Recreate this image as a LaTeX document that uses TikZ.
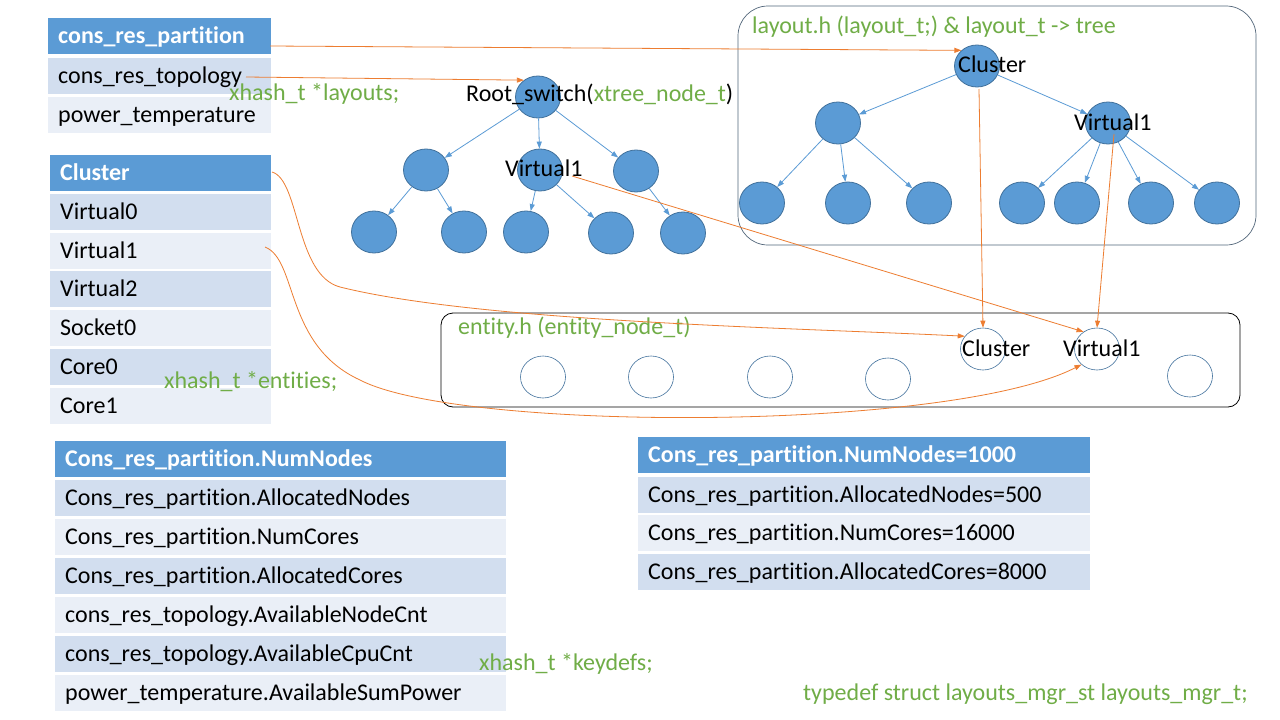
\documentclass[tikz,border=0pt]{standalone}
\usepackage{fontspec}
\setmainfont{Carlito}[Ligatures={TeX,NoCommon}]
\usetikzlibrary{shapes.geometric,arrows.meta}
\definecolor{hdrblue}{HTML}{5B9BD5}
\definecolor{rowdark}{HTML}{D2DEEF}
\definecolor{rowlight}{HTML}{EAEFF7}
\definecolor{codegreen}{HTML}{70AD47}
\definecolor{linkorange}{HTML}{ED7D31}
\definecolor{circborder}{HTML}{41719C}
\definecolor{boxborder}{HTML}{52667A}
\begin{document}
\begin{tikzpicture}[x=1pt,y=-1pt,
  font=\fontsize{24}{28}\selectfont,
  cellbox/.style={rectangle, anchor=north west, inner xsep=10pt, inner ysep=0pt,
    minimum height=36pt, text width=#1, align=left, text height=17pt, text depth=3pt},
  hdr/.style={fill=hdrblue, text=white, font=\fontsize{24}{28}\selectfont\bfseries},
  dk/.style={fill=rowdark},
  lt/.style={fill=rowlight},
  tnode/.style={ellipse, draw=circborder, fill=hdrblue, line width=0.8pt,
    minimum width=45pt, minimum height=42pt, inner sep=0pt},
  enode/.style={ellipse, draw=circborder, line width=0.6pt,
    minimum width=45pt, minimum height=42pt, inner sep=0pt},
  tarrow/.style={draw=hdrblue, line width=0.8pt, -{Triangle[length=7pt,width=5pt]}},
  oarrow/.style={draw=linkorange, line width=0.8pt, -{Triangle[length=7pt,width=5pt]}},
  lbl/.style={anchor=base west, inner sep=0pt},
  glbl/.style={anchor=base west, inner sep=0pt, text=codegreen}]
\fill[white] (0,0) rectangle (1280,720);
\useasboundingbox (0,0) rectangle (1280,720);

% Table 1
\node[cellbox=203pt, hdr] (t1a) at (48,18) {cons\_res\_partition};
\node[cellbox=203pt, dk] (t1b) at (48,58) {cons\_res\_topology};
\node[cellbox=203pt, lt] (t1c) at (48,97) {power\_temperature};

% Table 2
\node[cellbox=201pt, hdr] (t2a) at (50,155) {Cluster};
\node[cellbox=201pt, dk] (t2b) at (50,194) {Virtual0};
\node[cellbox=201pt, lt] (t2c) at (50,233) {Virtual1};
\node[cellbox=201pt, dk] (t2d) at (50,271) {Virtual2};
\node[cellbox=201pt, lt] (t2e) at (50,310) {Socket0};
\node[cellbox=201pt, dk] (t2f) at (50,349) {Core0};
\node[cellbox=201pt, lt] (t2g) at (50,388) {Core1};

% Table 3
\node[cellbox=431pt, hdr] (t3a) at (55,441) {Cons\_res\_partition.NumNodes};
\node[cellbox=431pt, dk] (t3b) at (55,480) {Cons\_res\_partition.AllocatedNodes};
\node[cellbox=431pt, lt] (t3c) at (55,519) {Cons\_res\_partition.NumCores};
\node[cellbox=431pt, dk] (t3d) at (55,558) {Cons\_res\_partition.AllocatedCores};
\node[cellbox=431pt, lt] (t3e) at (55,597) {cons\_res\_topology.AvailableNodeCnt};
\node[cellbox=431pt, dk] (t3f) at (55,636) {cons\_res\_topology.AvailableCpuCnt};
\node[cellbox=431pt, lt] (t3g) at (55,675) {power\_temperature.AvailableSumPower};

% Table 4
\node[cellbox=432pt, hdr] (t4a) at (638,437) {Cons\_res\_partition.NumNodes=1000};
\node[cellbox=432pt, dk] (t4b) at (638,477) {Cons\_res\_partition.AllocatedNodes=500};
\node[cellbox=432pt, lt] (t4c) at (638,515) {Cons\_res\_partition.NumCores=16000};
\node[cellbox=432pt, dk] (t4d) at (638,554) {Cons\_res\_partition.AllocatedCores=8000};

% Boxes
\draw[boxborder, line width=0.7pt, rounded corners=30pt] (738,6) rectangle (1256,245);
\draw[black, line width=0.8pt, rounded corners=12pt] (441,313) rectangle (1240,407);

% Left tree
\node[tnode] (lroot) at (538,97) {};
\node[tnode] (la) at (426,170) {};
\node[tnode] (lb) at (540,170) {};
\node[tnode] (lc) at (636,171) {};
\node[tnode] (l1) at (374,232) {};
\node[tnode] (l2) at (464,232) {};
\node[tnode] (l3) at (526,232) {};
\node[tnode] (l4) at (611,233) {};
\node[tnode] (l5) at (683,233) {};
\draw[tarrow] (lroot) -- (la);
\draw[tarrow] (lroot) -- (lb);
\draw[tarrow] (lroot) -- (lc);
\draw[tarrow] (la) -- (l1);
\draw[tarrow] (la) -- (l2);
\draw[tarrow] (lb) -- (l3);
\draw[tarrow] (lb) -- (l4);
\draw[tarrow] (lc) -- (l5);

% Right tree
\node[tnode] (rroot) at (977,66) {};
\node[tnode] (ra) at (838,123) {};
\node[tnode] (rb) at (1108,123) {};
\node[tnode] (r1) at (762,203) {};
\node[tnode] (r2) at (848,203) {};
\node[tnode] (r3) at (929,203) {};
\node[tnode] (r4) at (1022,203) {};
\node[tnode] (r5) at (1077,203) {};
\node[tnode] (r6) at (1151,203) {};
\node[tnode] (r7) at (1217,203) {};
\draw[tarrow] (rroot) -- (ra);
\draw[tarrow] (rroot) -- (rb);
\draw[tarrow] (ra) -- (r1);
\draw[tarrow] (ra) -- (r2);
\draw[tarrow] (ra) -- (r3);
\draw[tarrow] (rb) -- (r4);
\draw[tarrow] (rb) -- (r5);
\draw[tarrow] (rb) -- (r6);
\draw[tarrow] (rb) -- (r7);

% Entity circles
\node[enode] (e1) at (543,377) {};
\node[enode] (e2) at (651,377) {};
\node[enode] (e3) at (770,377) {};
\node[enode] (e4) at (888,379) {};
\node[enode] (eC) at (983,349) {};
\node[enode] (eV) at (1097,349) {};
\node[enode] (e7) at (1190,376) {};

% Labels
\node[glbl] (g1) at (229,100) {xhash\_t *layouts;};
\node[lbl] (rootlbl) at (466,101) {Root\_switch(\textcolor{codegreen}{xtree\_node\_t})};
\node[lbl] (lblv) at (505,176) {Virtual1};
\node[glbl] (g2) at (164,388) {xhash\_t *entities;};
\node[glbl] (g3) at (479,670) {xhash\_t *keydefs;};
\node[glbl] (g4) at (803,700) {typedef struct layouts\_mgr\_st layouts\_mgr\_t;};
\node[glbl] (g5) at (752,34) {layout.h (layout\_t;) \& layout\_t -> tree};
\node[glbl] (g6) at (458,334) {entity.h (entity\_node\_t)};
\node[lbl] (rcl) at (958,72) {Cluster};
\node[lbl] (rvl) at (1074,130) {Virtual1};
\node[lbl] (ecl) at (962,356) {Cluster};
\node[lbl] (evl) at (1063,356) {Virtual1};

% Orange links
\coordinate (o1) at (270,46);
\coordinate (o2) at (246,77);
\coordinate (o3) at (272,172);
\coordinate (o4) at (265,247);
\coordinate (o5) at (572,176);
\coordinate (o6) at (979,89);
\coordinate (o7) at (1114,134);
\draw[oarrow] (o1) -- (rroot.135);
\draw[oarrow] (o2) -- (lroot.130);
\draw[oarrow] (o3) .. controls (300,180) and (295,275) .. (340,287)
  .. controls (480,322) and (800,328) .. (eC.145);
\draw[oarrow] (o4) .. controls (298,260) and (284,345) .. (360,380)
  .. controls (460,432) and (950,432) .. (eV.225);
\draw[oarrow] (o5) -- (eV.128);
\draw[oarrow] (o6) -- (eC.north);
\draw[oarrow] (o7) -- (eV.north);
\end{tikzpicture}
\end{document}
